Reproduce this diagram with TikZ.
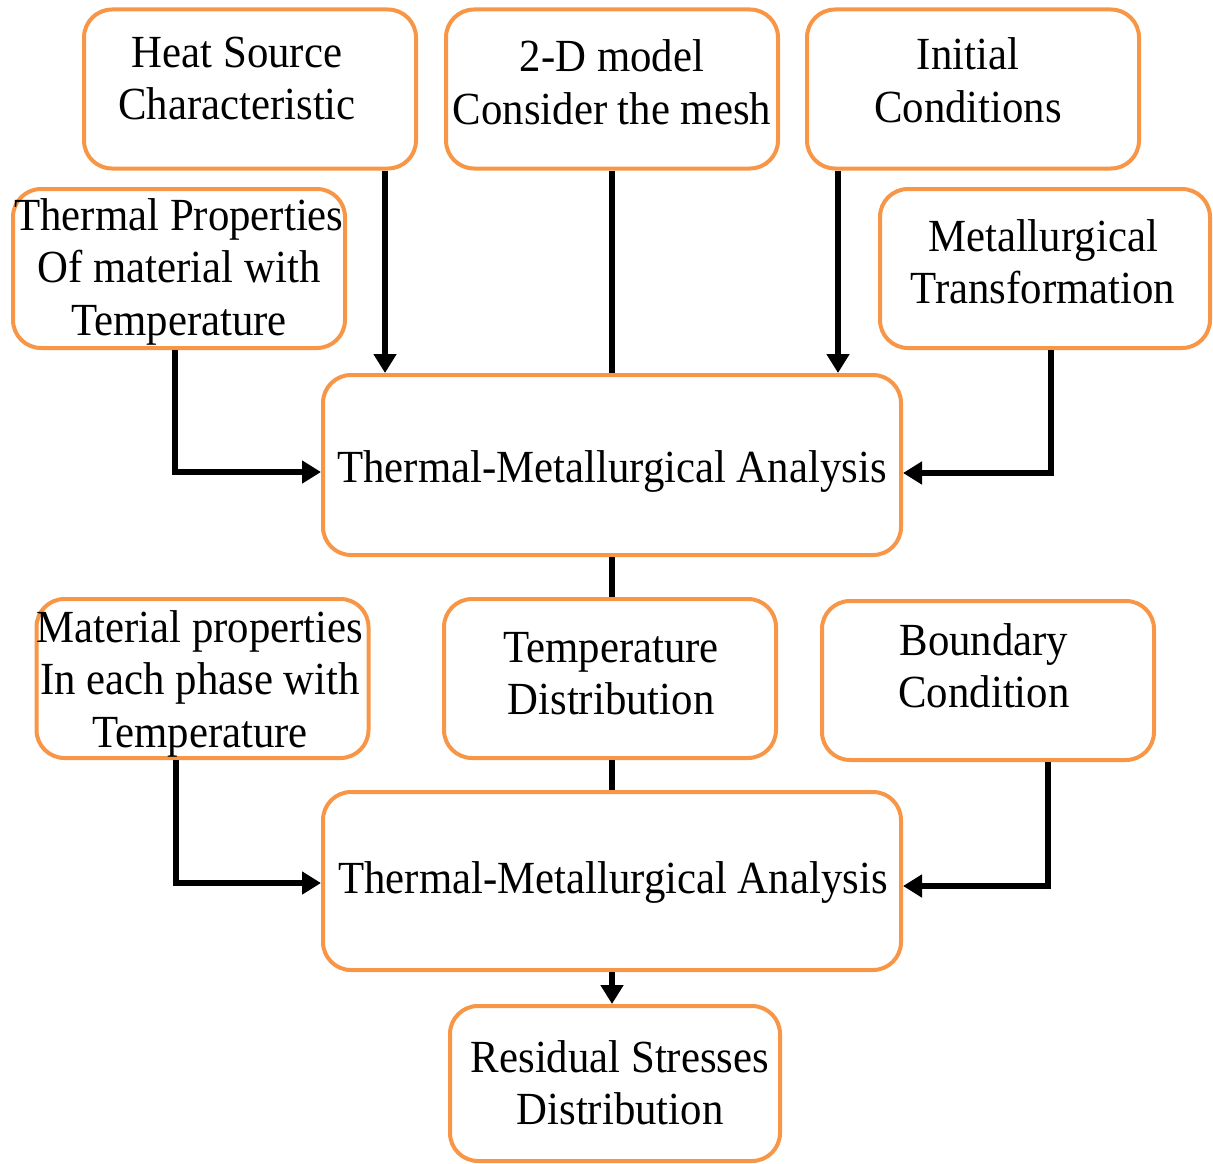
\documentclass[tikz,border=0pt]{standalone}
\usepackage{fontspec}
\setmainfont[FakeStretch=0.93]{Liberation Serif}
\usetikzlibrary{arrows.meta}
\definecolor{boxorange}{HTML}{F79646}
\newcommand{\lns}[1]{\begin{tabular}[t]{@{}c@{}}#1\end{tabular}}
\begin{document}
\begin{tikzpicture}[x=1pt,y=-1pt,
  box/.style={draw=boxorange, line width=4pt, rounded corners=28pt, inner sep=0pt,
              minimum width=332pt, minimum height=159pt},
  wide/.style={box, minimum width=578pt, minimum height=180pt},
  lbl/.style={anchor=base, inner sep=0pt, font=\fontsize{46pt}{52.5pt}\selectfont},
  link/.style={line width=5.5pt, draw=black},
  arr/.style={link, -{Triangle[length=19pt,width=22pt]}}]
\useasboundingbox (0,0) rectangle (1213,1164);

% boxes
\node[box] (hs) at (250,89) {};
\node[box] (dm) at (612,89) {};
\node[box] (ic) at (973,89) {};
\node[box] (tp) at (179,268.5) {};
\node[box, minimum width=330pt] (mt) at (1045,268.5) {};
\node[wide] (ta) at (612,465) {};
\node[box] (mp) at (202.5,678.5) {};
\node[box] (td) at (610,678.5) {};
\node[box] (bc) at (988,680.5) {};
\node[wide, minimum height=178pt] (tb) at (612,881) {};
\node[box, minimum width=330pt, minimum height=155pt] (rs) at (615,1083.5) {};

% texts
\node[lbl] (hst) at (237,67) {\lns{Heat Source\\Characteristic}};
\node[lbl] (dmt) at (612,72) {\lns{2-D model\\Consider the mesh}};
\node[lbl] (ict) at (968,70) {\lns{Initial\\Conditions}};
\node[lbl] (tpt) at (179,230) {\lns{Thermal Properties\\Of material with\\Temperature}};
\node[lbl] (mtt) at (1043,251) {\lns{Metallurgical\\Transformation}};
\node[lbl] (tat) at (612,482) {Thermal-Metallurgical Analysis};
\node[lbl] (mpt) at (200,642) {\lns{Material properties\\In each phase with\\Temperature}};
\node[lbl] (tdt) at (611,662) {\lns{Temperature\\Distribution}};
\node[lbl] (bct) at (984,655) {\lns{Boundary\\Condition}};
\node[lbl] (tbt) at (613,893) {Thermal-Metallurgical Analysis};
\node[lbl] (rst) at (620,1072) {\lns{Residual Stresses\\Distribution}};

% connectors
\draw[arr] ([xshift=-33pt]hs.south east) -- ([xshift=-33pt]hs.south east |- ta.north);
\draw[link] (dm.south) -- (ta.north);
\draw[arr] ([xshift=33pt]ic.south west) -- ([xshift=33pt]ic.south west |- ta.north);
\draw[arr] ([xshift=-4pt]tp.south) |- ([yshift=-7pt]ta.west);
\draw[arr] ([xshift=6pt]mt.south) |- ([yshift=-8pt]ta.east);
\draw[link] (ta.south) -- (ta.south |- td.north);
\draw[link] (ta.south |- td.south) -- (tb.north);
\draw[arr] ([xshift=-26.5pt]mp.south) |- ([yshift=-2pt]tb.west);
\draw[arr] ([xshift=60pt]bc.south) |- ([yshift=-5pt]tb.east);
\draw[arr] (tb.south) -- (tb.south |- rs.north);
\end{tikzpicture}
\end{document}
